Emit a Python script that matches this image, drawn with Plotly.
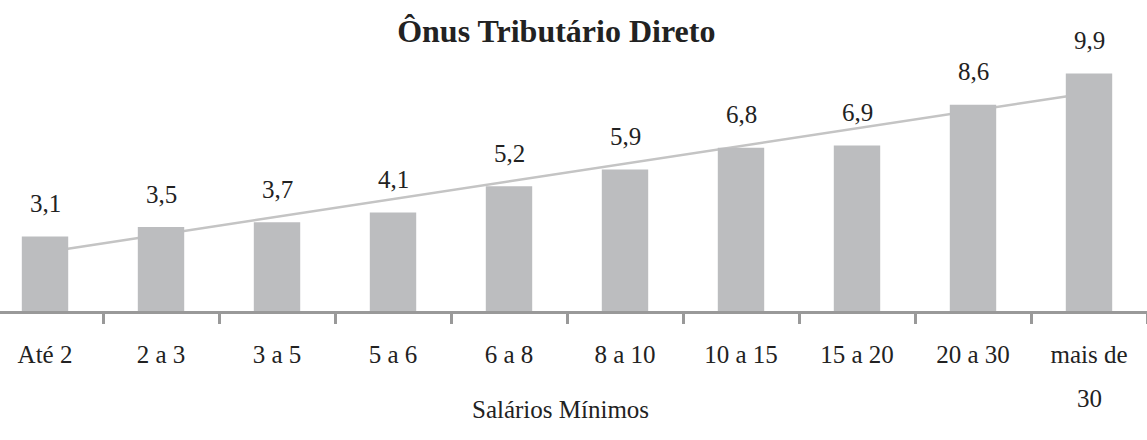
import numpy as np
import plotly.graph_objects as go

faixas = ["Até 2", "2 a 3", "3 a 5", "5 a 6", "6 a 8", "8 a 10",
          "10 a 15", "15 a 20", "20 a 30", "mais de 30"]
onus = [3.1, 3.5, 3.7, 4.1, 5.2, 5.9, 6.8, 6.9, 8.6, 9.9]
rotulos = [f"{v:.1f}".replace(".", ",") for v in onus]

# o ultimo rotulo quebra em duas linhas; "30" vai numa anotacao abaixo
textos_eixo = faixas[:-1] + ["mais de"]

serif = "Liberation Serif"
idx = np.arange(len(onus))
coef = np.polyfit(idx, onus, 1)

fig = go.Figure()

fig.add_trace(go.Bar(
    x=faixas,
    y=onus,
    marker=dict(color="#bcbdbf", line=dict(width=0)),
    hoverinfo="none",
))

# tendencia linear atras das barras
fig.add_shape(
    type="line", layer="below",
    x0=idx[0], y0=np.polyval(coef, idx[0]),
    x1=idx[-1], y1=np.polyval(coef, idx[-1]),
    line=dict(color="#c4c4c4", width=2.5),
)

for i, (v, t) in enumerate(zip(onus, rotulos)):
    fig.add_annotation(x=i, y=v, text=t, showarrow=False, yshift=33,
                       font=dict(family=serif, size=25, color="#222"))

fig.add_annotation(x=idx[-1], y=-0.282, xref="x", yref="paper",
                   yanchor="middle", text="30", showarrow=False,
                   font=dict(family=serif, size=25, color="#222"))

fig.add_annotation(x=0.489, y=-0.318, xref="paper", yref="paper",
                   yanchor="middle", text="Salários Mínimos", showarrow=False,
                   font=dict(family=serif, size=25, color="#222"))

fig.update_layout(
    width=1147, height=440,
    margin=dict(l=0, r=0, t=0, b=129),
    plot_bgcolor="white", paper_bgcolor="white",
    showlegend=False,
    bargap=0.6,
    title=dict(text="<b>Ônus Tributário Direto</b>", x=0.485, xanchor="center",
               y=1 - 31 / 440, yanchor="middle", yref="container",
               font=dict(family=serif, size=32, color="#222")),
    xaxis=dict(
        type="category",
        range=[-0.388, 9.5],
        tickmode="array", tickvals=faixas, ticktext=textos_eixo,
        tickson="boundaries", ticks="outside", ticklen=10, tickwidth=3,
        tickcolor="#999", showline=True, linecolor="#999", linewidth=3,
        showgrid=False, zeroline=False,
        tickfont=dict(family=serif, size=25, color="#222"),
        ticklabelstandoff=19,
    ),
    yaxis=dict(range=[0, 12.96], visible=False, showgrid=False),
)

fig.write_html("out.html", config={"displayModeBar": False},
               post_script="document.body.style.margin='0';")
